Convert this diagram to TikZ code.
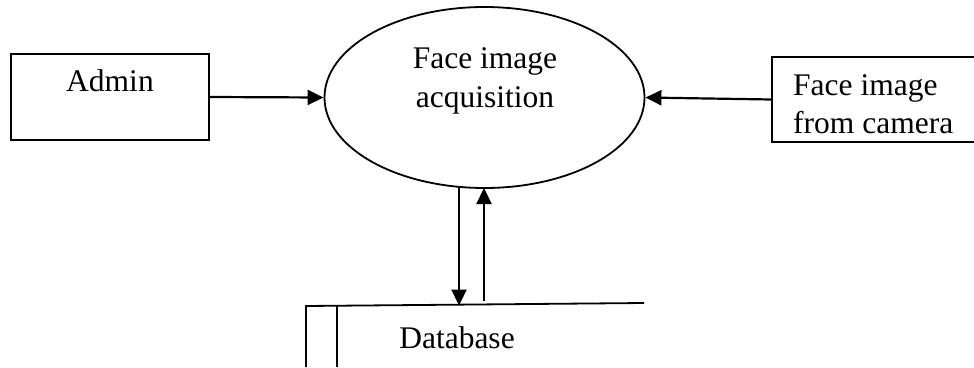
\documentclass[tikz,border=0pt]{standalone}
\usepackage{fontspec}
\setmainfont{Liberation Serif}
\usetikzlibrary{shapes.geometric,arrows.meta}
\begin{document}
\begin{tikzpicture}[x=1pt,y=-1pt,
  txt/.style={font=\fontsize{31.5}{38.5}\selectfont, inner sep=0pt},
  shp/.style={draw, line width=1.8pt},
  flow/.style={line width=2.2pt, -{Triangle[length=16pt,width=15pt]}}]
\useasboundingbox (0,0) rectangle (974,367);
% process
\node[shp, ellipse, minimum width=320pt, minimum height=181pt] (ell) at (484.5,97.5) {};
\node[txt, align=center] (elltxt) at (485,81) {Face image\\acquisition};
% external entities
\node[shp, rectangle, minimum width=198pt, minimum height=86pt] (admin) at (110,97) {};
\node[txt] (admintxt) at (110,81) {Admin};
\node[shp, rectangle, minimum width=210pt, minimum height=85pt] (cam) at (877,99.5) {};
\node[txt, align=left, anchor=west] (camtxt) at (793,104) {Face image\\from camera};
% data store
\coordinate (dbl) at (306,306);
\coordinate (dbr) at (644,303);
\coordinate (dbbl) at (306,367);
\coordinate (dbi) at (337,305.7);
\coordinate (dbib) at (337,367);
\draw[line width=1.8pt] (dbr) -- (dbl) -- (dbbl);
\draw[line width=1.8pt] (dbi) -- (dbib);
\node[txt] (db) at (457,338) {Database};
% connectors
\draw[flow] (admin.east) -- (ell.west);
\draw[flow] (cam.west) -- (ell.east);
\coordinate (downs) at (459,187);
\coordinate (downe) at (459,305.5);
\coordinate (ups) at (484,301);
\coordinate (upe) at (484,188);
\draw[flow] (downs) -- (downe);
\draw[flow] (ups) -- (upe);
\end{tikzpicture}
\end{document}
